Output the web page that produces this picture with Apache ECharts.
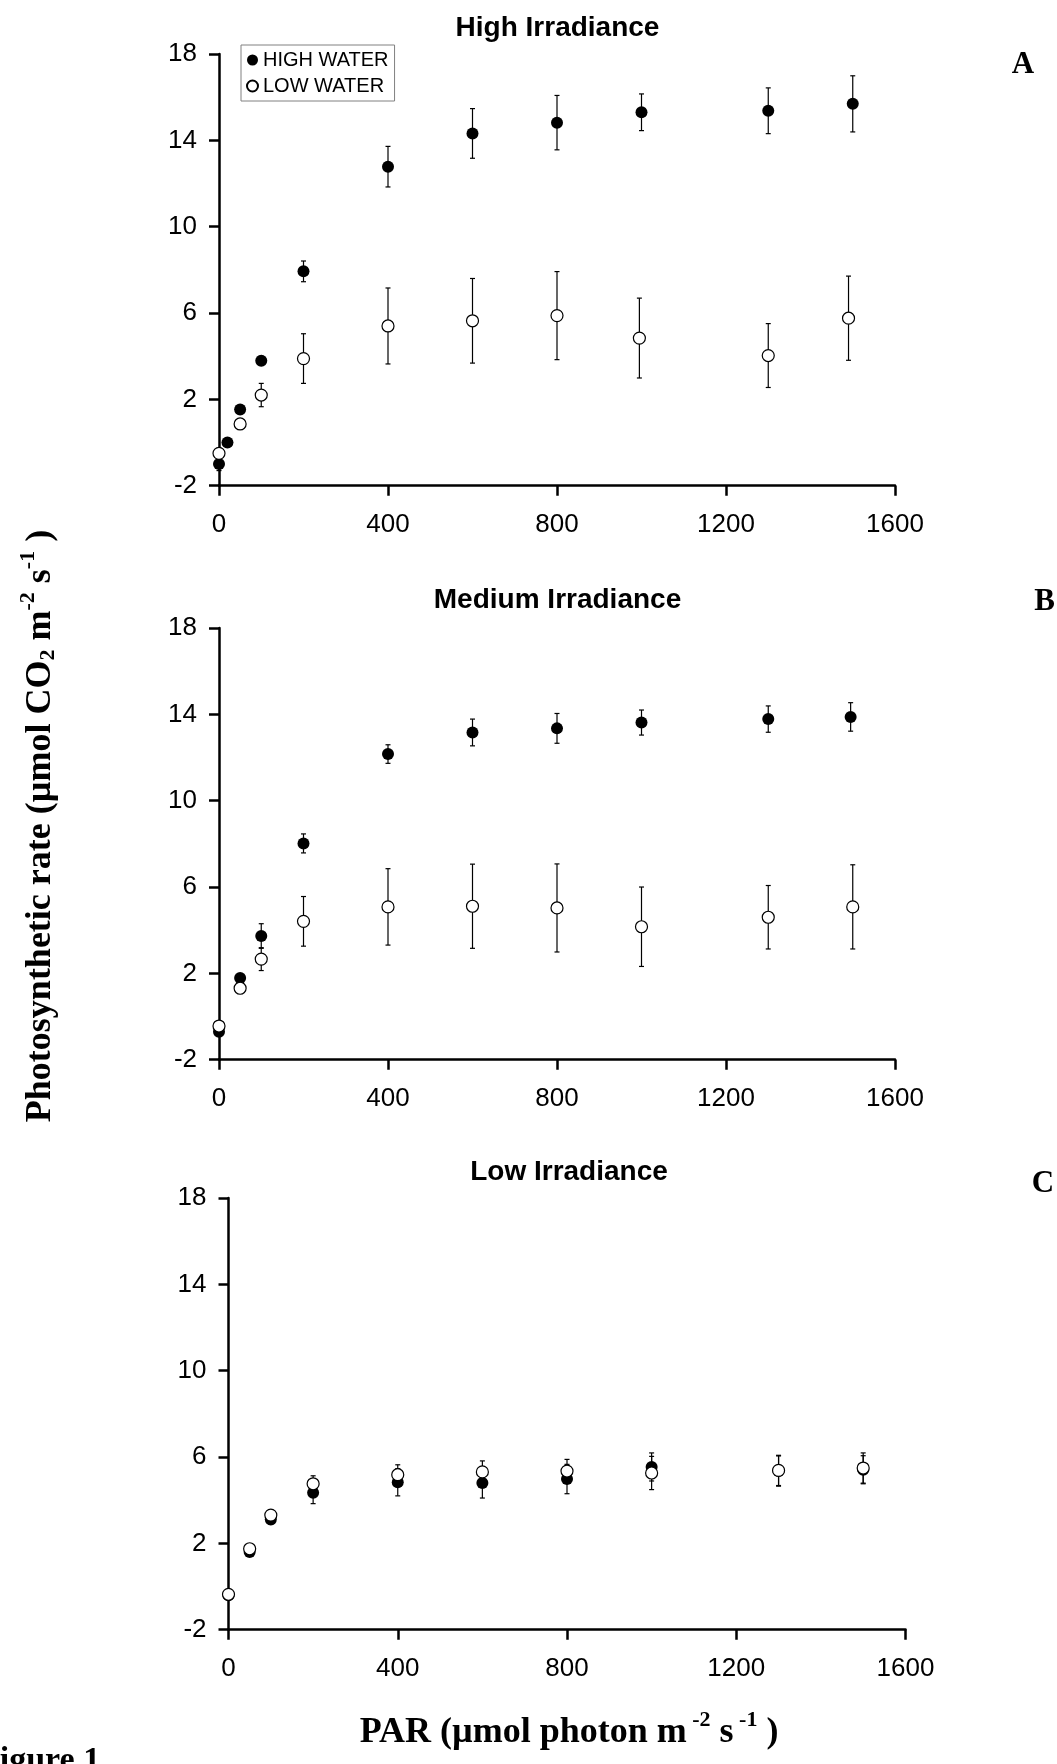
<!DOCTYPE html>
<html><head><meta charset="utf-8">
<script src="https://cdn.jsdelivr.net/npm/echarts@6/dist/echarts.min.js"></script>
<style>html,body{margin:0;padding:0;background:#fff;overflow:hidden}#c{width:1057px;height:1764px}</style>
</head><body><div id="c"></div>
<script>
// ---- tick labels / categories ----
const xTicks = [0, 400, 800, 1200, 1600];
const yTicks = [-2, 2, 6, 10, 14, 18];
const panelTitles = ['High Irradiance', 'Medium Irradiance', 'Low Irradiance'];
const panelLetters = ['A', 'B', 'C'];
const seriesNames = ['HIGH WATER', 'LOW WATER'];

// ---- Panel A: High Irradiance ----
const highA_x = [0, 20, 50, 100, 200, 400, 600, 800, 1000, 1300, 1500];
const highA_y = [-1.0, 0.0, 1.53, 3.79, 7.93, 12.78, 14.32, 14.82, 15.30, 15.37, 15.69];
const highA_e = [0.3, 0, 0, 0.2, 0.48, 0.94, 1.15, 1.26, 0.85, 1.06, 1.30];
const lowA_x = [0, 50, 100, 200, 400, 600, 800, 995, 1300, 1490];
const lowA_y = [-0.5, 0.86, 2.2, 3.89, 5.4, 5.64, 5.88, 4.84, 4.03, 5.76];
const lowA_e = [0, 0, 0.54, 1.15, 1.76, 1.96, 2.04, 1.85, 1.48, 1.95];

// ---- Panel B: Medium Irradiance ----
const highB_x = [0, 50, 100, 200, 400, 600, 800, 1000, 1300, 1495];
const highB_y = [-0.7, 1.79, 3.73, 8.02, 12.16, 13.16, 13.35, 13.62, 13.78, 13.88];
const highB_e = [0.15, 0.2, 0.57, 0.44, 0.43, 0.62, 0.69, 0.58, 0.61, 0.66];
const lowB_x = [0, 50, 100, 200, 400, 600, 800, 1000, 1300, 1500];
const lowB_y = [-0.44, 1.31, 2.66, 4.41, 5.08, 5.11, 5.03, 4.16, 4.60, 5.08];
const lowB_e = [0, 0, 0.53, 1.15, 1.77, 1.95, 2.04, 1.84, 1.47, 1.95];

// ---- Panel C: Low Irradiance ----
const highC_x = [0, 50, 100, 200, 400, 600, 800, 1000, 1300, 1500];
const highC_y = [-0.4, 1.6, 3.1, 4.35, 4.83, 4.8, 4.98, 5.54, 5.35, 5.41];
const highC_e = [0, 0.15, 0.2, 0.51, 0.63, 0.7, 0.68, 0.65, 0.7, 0.65];
const lowC_x = [0, 50, 100, 200, 400, 600, 800, 1000, 1300, 1500];
const lowC_y = [-0.36, 1.75, 3.31, 4.76, 5.18, 5.31, 5.35, 5.26, 5.38, 5.49];
const lowC_e = [0, 0, 0, 0.37, 0.46, 0.51, 0.54, 0.77, 0.7, 0.7];

const SANS = '"Liberation Sans", Arial, sans-serif';
const SERIF = '"Liberation Serif", "Times New Roman", serif';

const panels = [
  { hx: highA_x, hy: highA_y, he: highA_e, lx: lowA_x, ly: lowA_y, le: lowA_e },
  { hx: highB_x, hy: highB_y, he: highB_e, lx: lowB_x, ly: lowB_y, le: lowB_e },
  { hx: highC_x, hy: highC_y, he: highC_e, lx: lowC_x, ly: lowC_y, le: lowC_e }
];

const grids = [
  { left: 219, top: 54, width: 676, height: 431.7 },
  { left: 219, top: 628, width: 676, height: 431.7 },
  { left: 228.5, top: 1198, width: 677, height: 431.7 }
];

const axisLineStyle = { color: '#000', width: 2.5 };

const xAxes = grids.map((g, i) => ({
  gridIndex: i, type: 'value', min: xTicks[0], max: xTicks[xTicks.length - 1],
  interval: xTicks[1] - xTicks[0],
  axisLine: { show: true, onZero: false, lineStyle: axisLineStyle },
  axisTick: { show: true, length: 10, lineStyle: axisLineStyle },
  axisLabel: { margin: 26, fontSize: 26, color: '#000', fontFamily: SANS, formatter: v => String(v) },
  splitLine: { show: false }
}));

const yAxes = grids.map((g, i) => ({
  gridIndex: i, type: 'value', min: yTicks[0], max: yTicks[yTicks.length - 1],
  axisLine: { show: true, onZero: false, lineStyle: axisLineStyle },
  axisTick: { show: true, length: 10, lineStyle: axisLineStyle, customValues: yTicks },
  axisLabel: { margin: 22, fontSize: 26, color: '#000', fontFamily: SANS, customValues: yTicks, formatter: v => String(v) },
  splitLine: { show: false }
}));

function errSeries(xs, ys, es, gi) {
  return {
    type: 'custom', xAxisIndex: gi, yAxisIndex: gi, silent: true, z: 1,
    data: xs.map((x, i) => [x, ys[i], es[i]]),
    encode: { x: 0, y: 1 },
    renderItem(params, api) {
      const x = api.value(0), y = api.value(1), e = api.value(2);
      if (!e) return null;
      const t = api.coord([x, y + e]), b = api.coord([x, y - e]);
      const w = 2.5;
      const st = { stroke: '#000', lineWidth: 1.2 };
      return {
        type: 'group', children: [
          { type: 'line', shape: { x1: t[0], y1: t[1], x2: b[0], y2: b[1] }, style: st },
          { type: 'line', shape: { x1: t[0] - w, y1: t[1], x2: t[0] + w, y2: t[1] }, style: st },
          { type: 'line', shape: { x1: b[0] - w, y1: b[1], x2: b[0] + w, y2: b[1] }, style: st }
        ]
      };
    }
  };
}

const series = [];
panels.forEach((p, i) => {
  series.push(errSeries(p.hx, p.hy, p.he, i));
  series.push(errSeries(p.lx, p.ly, p.le, i));
  series.push({
    type: 'scatter', name: seriesNames[0], xAxisIndex: i, yAxisIndex: i, z: 2,
    symbol: 'circle', symbolSize: 12, data: p.hx.map((x, k) => [x, p.hy[k]]),
    itemStyle: { color: '#000', opacity: 1 }, emphasis: { disabled: true }
  });
  series.push({
    type: 'scatter', name: seriesNames[1], xAxisIndex: i, yAxisIndex: i, z: 3,
    symbol: 'circle', symbolSize: 12, data: p.lx.map((x, k) => [x, p.ly[k]]),
    itemStyle: { color: '#fff', borderColor: '#000', borderWidth: 1.2, opacity: 1 }, emphasis: { disabled: true }
  });
});

const titlePos = [[557.5, 28.5], [557.5, 600], [569, 1172]];
const letterPos = [[1023, 64.5], [1044.5, 601.5], [1043, 1183.5]];

const graphics = [];
panelTitles.forEach((t, i) => {
  graphics.push({ type: 'text', x: titlePos[i][0], y: titlePos[i][1], silent: true,
    style: { text: t, fontSize: 28, fontWeight: 'bold', fontFamily: SANS, fill: '#000', align: 'center', verticalAlign: 'middle' } });
  graphics.push({ type: 'text', x: letterPos[i][0], y: letterPos[i][1], silent: true,
    style: { text: panelLetters[i], fontSize: 31, fontWeight: 'bold', fontFamily: SERIF, fill: '#000', align: 'center', verticalAlign: 'middle' } });
});

function richSerif(size) {
  const s = Math.round(size * 0.62);
  return {
    m: { fontSize: size, fontWeight: 'bold', fontFamily: SERIF, fill: '#000', lineHeight: size + 6, verticalAlign: 'bottom' },
    sup: { fontSize: s, fontWeight: 'bold', fontFamily: SERIF, fill: '#000', lineHeight: s, verticalAlign: 'top' },
    sub: { fontSize: s, fontWeight: 'bold', fontFamily: SERIF, fill: '#000', lineHeight: s, verticalAlign: 'bottom' }
  };
}

graphics.push({ type: 'text', x: 38, y: 826, rotation: Math.PI / 2, silent: true,
  style: { text: '{m|Photosynthetic rate (µmol CO}{sub|2}{m| m}{sup|-2}{m| s}{sup|-1}{m| )}',
    rich: richSerif(36), align: 'center', verticalAlign: 'middle' } });

graphics.push({ type: 'text', x: 569, y: 1730, silent: true,
  style: { text: '{m|PAR (µmol photon m}{sup| -2}{m| s}{sup| -1}{m| )}',
    rich: richSerif(36), align: 'center', verticalAlign: 'middle' } });

graphics.push({ type: 'text', x: -21, y: 1761, silent: true,
  style: { text: 'Figure 1', fontSize: 34, fontWeight: 'bold', fontFamily: SERIF, fill: '#000', align: 'left', verticalAlign: 'middle' } });

const chart = echarts.init(document.getElementById('c'), null, { renderer: 'canvas' });
chart.setOption({
  animation: false,
  backgroundColor: '#fff',
  grid: grids,
  xAxis: xAxes,
  yAxis: yAxes,
  legend: {
    data: seriesNames, orient: 'vertical', left: 241, top: 45,
    padding: [5, 6, 5, 5], itemGap: 6, itemWidth: 11, itemHeight: 11,
    borderColor: '#808080', borderWidth: 1, selectedMode: false, icon: 'circle',
    textStyle: { fontSize: 20, fontFamily: SANS, color: '#000' }
  },
  series: series,
  graphic: graphics
});
</script>
</body></html>
